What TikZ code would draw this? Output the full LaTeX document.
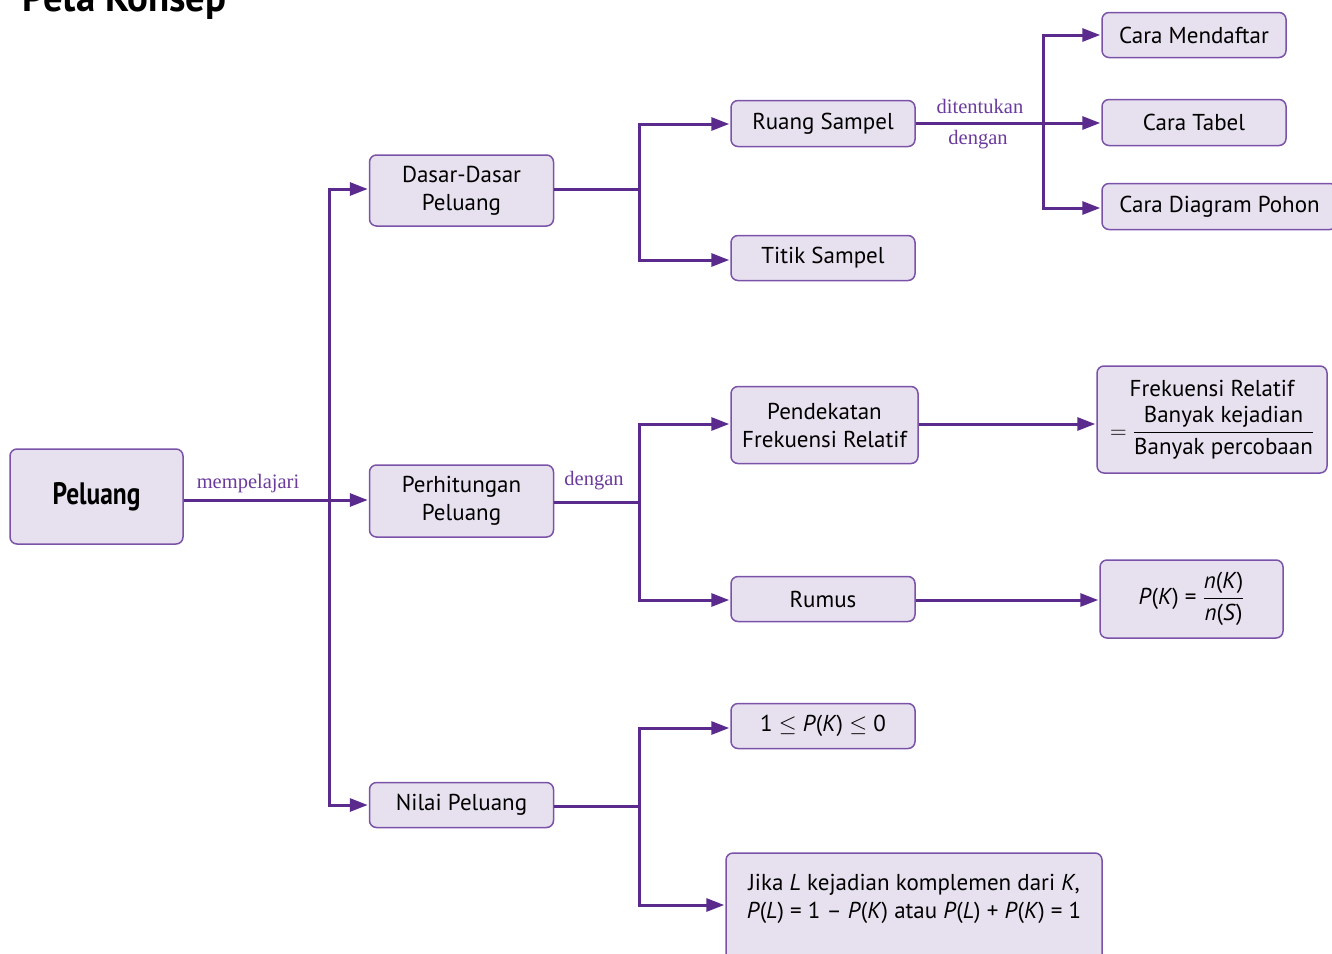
\RequirePackage{fix-cm}
\documentclass[tikz,border=0pt]{standalone}
\usepackage{amsmath}
\usepackage{fontspec}
\setmainfont{PT Sans}
\newfontfamily\labserif{Liberation Serif}
\usetikzlibrary{arrows.meta}
\definecolor{ln}{HTML}{5A2A8C}
\definecolor{bd}{HTML}{7A52A8}
\definecolor{bf}{HTML}{E7E1EF}
\definecolor{lb}{HTML}{6A3A9C}
\begin{document}
\begin{tikzpicture}[x=1pt,y=-1pt,
 box/.style={draw=bd, fill=bf, line width=1.5pt, rounded corners=7pt, inner sep=0pt, align=center, font=\fontsize{23}{28}\selectfont},
 conn/.style={draw=ln, line width=3pt, -{Triangle[length=18pt,width=13pt]}, shorten >=1pt},
 lin/.style={draw=ln, line width=3pt},
 lab/.style={text=lb, font=\labserif\fontsize{20.5}{24}\selectfont, inner sep=0pt, anchor=base}]
\useasboundingbox (0,0) rectangle (1332,953);

\node[anchor=base west, font=\bfseries\fontsize{40}{40}\selectfont, xscale=0.97, inner sep=0pt] (title) at (22,12) {Peta Konsep};

\node[box, minimum width=173pt, minimum height=95pt, font=\bfseries\fontsize{31}{36}\selectfont] (pel) at (96.5,496.5) {\scalebox{0.82}[1]{Peluang}};

\node[box, minimum width=184pt, minimum height=71pt] (dasar) at (461.5,190.5) {Dasar-Dasar\\Peluang};
\node[box, minimum width=184pt, minimum height=72pt] (perh) at (461.5,501) {Perhitungan\\Peluang};
\node[box, minimum width=184pt, minimum height=45pt] (nilai) at (461.5,805) {Nilai Peluang};

\node[box, minimum width=184pt, minimum height=46pt] (ruang) at (823,123.5) {Ruang Sampel};
\node[box, minimum width=184pt, minimum height=45pt] (titik) at (823,258) {Titik Sampel};
\node[box, minimum width=187pt, minimum height=77pt] (pend) at (824.5,425) {Pendekatan\\Frekuensi Relatif};
\node[box, minimum width=184pt, minimum height=45pt] (rumus) at (823,599) {Rumus};
\node[box, minimum width=184pt, minimum height=45pt] (satu) at (823,726) {1 $\leq$ \textit{P}(\textit{K}) $\leq$ 0};
\node[box, minimum width=376pt, minimum height=120pt, text depth=34pt] (jika) at (914,913) {Jika \textit{L} kejadian komplemen dari \textit{K},\\\textit{P}(\textit{L}) = 1 -- \textit{P}(\textit{K}) atau \textit{P}(\textit{L}) + \textit{P}(\textit{K}) = 1};

\node[box, minimum width=184pt, minimum height=45pt] (daftar) at (1194,35) {Cara Mendaftar};
\node[box, minimum width=184pt, minimum height=46pt] (tabel) at (1194,122.5) {Cara Tabel};
\node[box, minimum width=235pt, minimum height=46pt] (pohon) at (1219.5,206.5) {Cara Diagram Pohon};

\node[box, minimum width=230pt, minimum height=107pt] (frek) at (1212,419.5) {Frekuensi Relatif\\[9pt]
 $=\dfrac{\text{Banyak kejadian}}{\text{Banyak percobaan}}$};
\node[box, minimum width=183pt, minimum height=78pt] (pk) at (1191.5,599) {\textit{P}(\textit{K}) = $\dfrac{\text{\textit{n}(\textit{K})}}{\text{\textit{n}(\textit{S})}}$};

% labels
\node[lab] (l1) at (248,488) {mempelajari};
\node[lab] (l2) at (594,485) {dengan};
\node[lab] (l3) at (980,113) {ditentukan};
\node[lab] (l4) at (978,144) {dengan};

% junctions
\coordinate (j1) at (329,500);
\coordinate (j2) at (639,189);
\coordinate (j3) at (639,502);
\coordinate (j4) at (639,806);
\coordinate (j5) at (1043,123);

\draw[conn] (pel.east |- j1) -- (perh.west |- j1);
\draw[conn] (j1) |- (dasar.west |- 0,189);
\draw[conn] (j1) |- (nilai.west |- 0,805);

\draw[lin] (dasar.east |- j2) -- (j2);
\draw[conn] (j2) |- (ruang.west |- 0,124);
\draw[conn] (j2) |- (titik.west |- 0,260);

\draw[lin] (perh.east |- j3) -- (j3);
\draw[conn] (j3) |- (pend.west |- 0,424);
\draw[conn] (j3) |- (rumus.west |- 0,600);

\draw[lin] (nilai.east |- j4) -- (j4);
\draw[conn] (j4) |- (satu.west |- 0,728);
\draw[conn] (j4) |- (jika.west |- 0,905);

\draw[conn] (ruang.east |- j5) -- (tabel.west |- j5);
\draw[conn] (j5) |- (daftar.west |- 0,35);
\draw[conn] (j5) |- (pohon.west |- 0,208);

\draw[conn] (pend.east |- 0,424) -- (frek.west |- 0,424);
\draw[conn] (rumus.east |- 0,600) -- (pk.west |- 0,600);
\end{tikzpicture}
\end{document}
